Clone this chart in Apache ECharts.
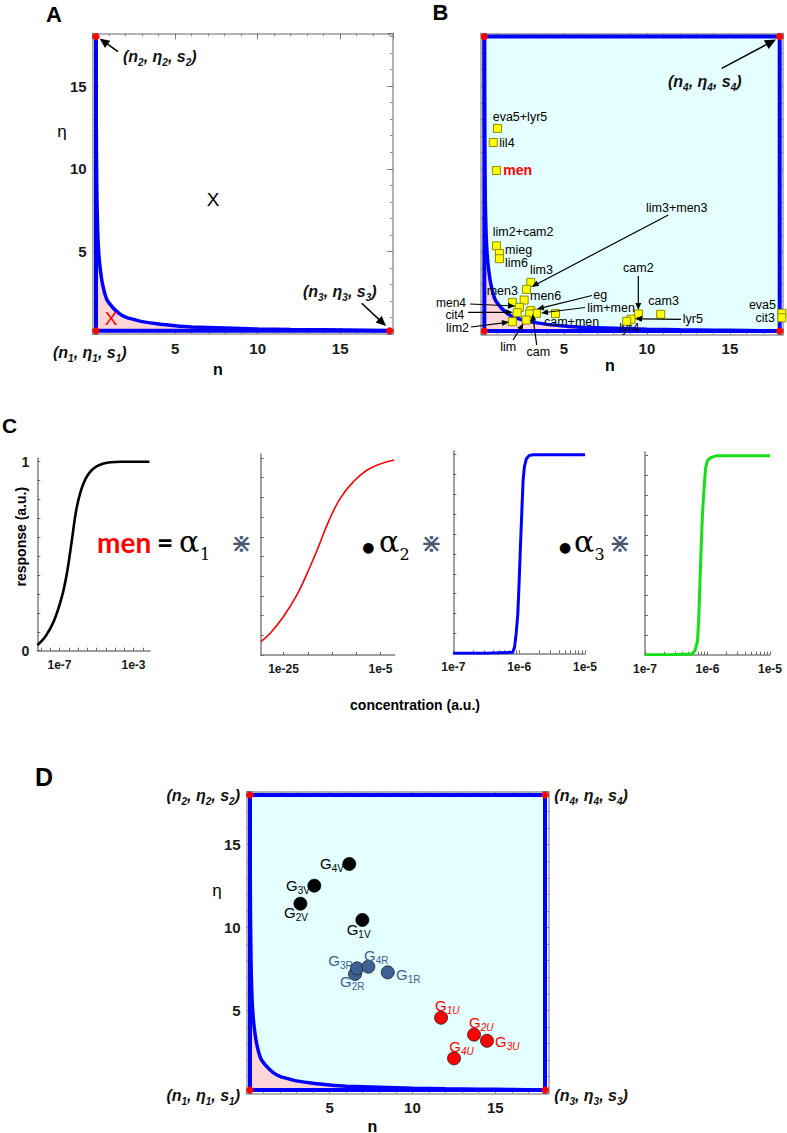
<!DOCTYPE html>
<html><head><meta charset="utf-8">
<script src="https://cdn.jsdelivr.net/npm/echarts@6/dist/echarts.min.js"></script>
<style>html,body{margin:0;padding:0;background:#fff}#c{width:787px;height:1133px}</style>
</head><body><div id="c"></div>
<script>
// ---------------- DATA ----------------
const frameTickLabels = [5, 10, 15];
// boundary curve (n, eta)
const curveN   = [0.2, 0.21, 0.23, 0.26, 0.3, 0.36, 0.45, 0.6, 0.85, 1.2, 1.6, 2.0, 2.6, 3.0, 4.0, 5.0, 6.0, 8.0, 10.0, 12.0, 14.0, 16.0, 18.0];
const curveEta = [18.0, 14.0, 10.5, 8.0, 6.3, 5.0, 4.0, 3.0, 2.1, 1.62, 1.25, 1.02, 0.85, 0.75, 0.6, 0.5, 0.43, 0.36, 0.3, 0.27, 0.25, 0.23, 0.2];
// corner vertices (n1..n4)
const cornerN   = [0.2, 0.2, 18.0, 18.0];
const cornerEta = [0.2, 18.0, 0.2, 18.0];
// panel A marks
const aMarkLabels = ['X', 'X'];
const aMarkN   = [7.29, 1.11];
const aMarkEta = [8.12, 0.95];
// panel B points
const bNames = ['eva5+lyr5','lil4','men','lim2+cam2','mieg','lim6','lim3','men3','men6','','men4','cit4','eg','lim+men','cam','cam+men','lim','lim2','cam2','cam3','lyr5','lyr4','eva5','cit3'];
const bN   = [0.99, 0.74, 0.93, 0.93, 1.11, 1.11, 3.0, 2.74, 2.6, 1.89, 2.31, 2.18, 3.0, 3.34, 2.92, 4.49, 2.72, 1.89, 9.49, 10.83, 9.04, 8.78, 18.13, 18.13];
const bEta = [12.45, 11.6, 9.9, 5.35, 4.89, 4.57, 3.14, 2.72, 2.07, 1.93, 1.63, 1.31, 1.43, 1.27, 1.23, 1.25, 0.86, 0.76, 1.23, 1.21, 0.91, 0.79, 1.27, 1.0];
// panel D points
const dNames = ['G1V','G2V','G3V','G4V','G1R','G2R','G3R','G4R','G1U','G2U','G3U','G4U'];
const dGroup = ['V','V','V','V','R','R','R','R','U','U','U','U'];
const dN   = [6.98, 3.24, 4.08, 6.19, 8.51, 6.54, 6.66, 7.34, 11.73, 13.72, 14.5, 12.51];
const dEta = [10.46, 11.44, 12.53, 13.84, 7.3, 7.2, 7.54, 7.64, 4.56, 3.54, 3.17, 2.11];
// panel C response curves: x = log10(concentration)
const c1Exp  = [-8.19, -7.77, -7.32, -6.87, -6.6, -6.33, -6.06, -5.7, -5.25, -4.62, -3.72, -2.14];
const c1Resp = [0.03, 0.074, 0.153, 0.286, 0.41, 0.586, 0.762, 0.886, 0.956, 0.99, 1.0, 1.0];
const c2Exp  = [-29.66, -27.74, -25, -22.24, -19.85, -17.78, -15.72, -13.31, -10.57, -7.12, -2.18];
const c2Resp = [0.068, 0.11, 0.195, 0.305, 0.43, 0.55, 0.677, 0.795, 0.88, 0.948, 0.99];
const c3Exp  = [-7.0, -6.5, -6.1, -6.07, -6.045, -6.02, -6.0, -5.98, -5.96, -5.94, -5.92, -5.89, -5.85, -5.79, -5.5, -5.0];
const c3Resp = [0.0, 0.0, 0.005, 0.03, 0.1, 0.2, 0.36, 0.54, 0.71, 0.87, 0.94, 0.98, 0.995, 1.0, 1.0, 1.0];
const c4Exp  = [-7.0, -6.6, -6.25, -6.2, -6.16, -6.14, -6.12, -6.1, -6.08, -6.05, -6.03, -6.0, -5.95, -5.85, -5.5, -5.0];
const c4Resp = [0.0, 0.0, 0.003, 0.02, 0.07, 0.18, 0.37, 0.55, 0.71, 0.86, 0.94, 0.975, 0.99, 1.0, 1.0, 1.0];
// tick labels (exponents) for C
const c1LabelExp = [-7, -3];
const c2LabelExp = [-25, -5];
const c34LabelExp = [-7, -6, -5];
const cYLabels = [0, 1];

// ---------------- LAYOUT / STYLE ----------------
const FONT = 'Liberation Sans';
const AX_MAX = 18.2;
const grids = [], xAxes = [], yAxes = [], series = [], graphics = [];
function addGrid(g) { grids.push(Object.assign({ show: false, containLabel: false, outerBoundsMode: 'none' }, g)); return grids.length - 1; }

function frameAxis(gi, pos, labels) {
  const isX = pos === 'bottom' || pos === 'top';
  const ax = {
    type: 'value', gridIndex: gi, position: pos, min: 0, max: AX_MAX, interval: 5,
    axisLine: { show: true, onZero: false, lineStyle: { color: '#9a9a9a', width: 1.5 } },
    axisTick: { show: true, inside: true, length: 6, lineStyle: { color: '#7a7a7a', width: 1 } },
    minorTick: { show: true, splitNumber: 5, length: 3, lineStyle: { color: '#8a8a8a', width: 1 } },
    splitLine: { show: false }, minorSplitLine: { show: false },
    axisLabel: { show: labels, margin: isX ? 7 : 6, color: '#1a1a1a', fontFamily: FONT, fontWeight: 'bold', fontSize: 15,
      formatter: v => frameTickLabels.includes(v) ? String(v) : '' }
  };
  const arr = isX ? xAxes : yAxes; arr.push(ax); return arr.length - 1;
}

function framePanel(g, full, yLabels) {
  const gi = addGrid(g);
  const xb = frameAxis(gi, 'bottom', true); frameAxis(gi, 'top', false);
  const yl = frameAxis(gi, 'left', yLabels); frameAxis(gi, 'right', false);
  const corners = cornerN.map((n, i) => [n, cornerEta[i]]);
  if (full) {
    series.push({ type: 'line', xAxisIndex: xb, yAxisIndex: yl, data: [corners[0], corners[3]], symbol: 'none', lineStyle: { width: 0 }, silent: true, z: 1,
      markArea: { silent: true, itemStyle: { color: '#e4ffff' }, data: [[{ coord: corners[0] }, { coord: corners[3] }]] } });
  }
  series.push({ type: 'line', xAxisIndex: xb, yAxisIndex: yl, data: curveN.map((n, i) => [n, curveEta[i]]), symbol: 'none', smooth: 0.25,
    lineStyle: { color: '#0000ff', width: 3.5 }, areaStyle: { color: '#ffd6d8', opacity: 1, origin: 0.2 }, silent: true, z: 3 });
  const path = full ? [corners[0], corners[1], corners[3], corners[2], corners[0]] : [corners[1], corners[0], corners[2]];
  series.push({ type: 'line', xAxisIndex: xb, yAxisIndex: yl, data: path, symbol: 'none', lineStyle: { color: '#0000ff', width: 4, join: 'miter' }, silent: true, z: 4 });
  const dots = full ? corners : corners.slice(0, 3);
  series.push({ type: 'scatter', xAxisIndex: xb, yAxisIndex: yl, data: dots, symbolSize: 7, itemStyle: { color: '#ff0000', opacity: 1 }, clip: false, silent: true, z: 8 });
  return { xb, yl };
}

// Panel A
const A = framePanel({ left: 92.7, top: 33.3, width: 300.3, height: 300.7 }, false, true);
series.push({ type: 'scatter', xAxisIndex: A.xb, yAxisIndex: A.yl, symbolSize: 2, z: 9, silent: true,
  itemStyle: { color: 'rgba(0,0,0,0)', opacity: 1 },
  data: aMarkN.map((n, i) => ({ value: [n, aMarkEta[i]], name: aMarkLabels[i],
    label: { show: true, position: 'inside', formatter: '{b}', fontFamily: FONT, fontSize: 19, textBorderWidth: 0, opacity: 1,
      color: i === 0 ? '#000000' : '#ff0000' } })) });

// Panel B
const B = framePanel({ left: 481, top: 33.3, width: 302, height: 301 }, true, false);
series.push({ type: 'scatter', xAxisIndex: B.xb, yAxisIndex: B.yl, symbol: 'rect', symbolSize: 8, clip: false, z: 7,
  itemStyle: { color: '#ffff00', borderColor: '#8c8c00', borderWidth: 1, opacity: 1 },
  data: bN.map((n, i) => ({ value: [n, bEta[i]], name: bNames[i] })) });

// Panel D
const D = framePanel({ left: 246.7, top: 791.7, width: 301.6, height: 301.6 }, true, true);
const groupColor = { V: '#000000', R: '#3d6194', U: '#ff0000' };
series.push({ type: 'scatter', xAxisIndex: D.xb, yAxisIndex: D.yl, symbolSize: 13, clip: false, z: 7,
  data: dN.map((n, i) => ({ value: [n, dEta[i]], name: dNames[i],
    itemStyle: { color: groupColor[dGroup[i]], borderColor: dGroup[i] === 'V' ? '#000' : '#1e1e1e', borderWidth: 0.8, opacity: 1 } })) });

// Panel C
function logTicks(lo, hi, majorOnly) {
  const t = [];
  for (let e = Math.floor(lo) - 1; e <= Math.ceil(hi); e++) {
    if (e >= lo - 1e-9 && e <= hi + 1e-9) t.push(e);
    if (!majorOnly) for (let k = 2; k <= 9; k++) { const v = e + Math.log10(k); if (v >= lo && v <= hi) t.push(v); }
  }
  return t;
}
const cYTicks = []; for (let i = 0; i <= 10; i++) cYTicks.push(i / 10);
function cPanel(g, xmin, xmax, tickVals, labelVals, showY, xs, ys, color, width, smooth) {
  const gi = addGrid(g);
  xAxes.push({ type: 'value', gridIndex: gi, position: 'bottom', min: xmin, max: xmax,
    axisLine: { show: true, onZero: false, lineStyle: { color: '#808080', width: 1.5 } },
    axisTick: { show: true, inside: true, length: 3, customValues: tickVals, lineStyle: { color: '#666', width: 1 } },
    axisLabel: { show: true, customValues: labelVals, formatter: v => '1e' + Math.round(v), margin: 8,
      fontFamily: FONT, fontWeight: 'bold', fontSize: 12, color: '#1a1a1a' },
    splitLine: { show: false } });
  yAxes.push({ type: 'value', gridIndex: gi, position: 'left', min: 0, max: 1.02,
    axisLine: { show: true, onZero: false, lineStyle: { color: '#808080', width: 1.5 } },
    axisTick: { show: true, inside: true, length: 3, customValues: cYTicks, lineStyle: { color: '#666', width: 1 } },
    axisLabel: { show: showY, customValues: cYLabels, formatter: v => String(Math.round(v)), margin: 8,
      fontFamily: FONT, fontWeight: 'bold', fontSize: 14, color: '#1a1a1a' },
    splitLine: { show: false } });
  series.push({ type: 'line', xAxisIndex: xAxes.length - 1, yAxisIndex: yAxes.length - 1,
    data: xs.map((x, i) => [x, ys[i]]), symbol: 'none', smooth: smooth,
    lineStyle: { color, width }, silent: true, z: 3 });
}
const c1Ticks = [-8, -7.5, -7, -6.5, -6, -5.5, -5, -4.5, -4, -3.5, -3, -2.5];
cPanel({ left: 37.3, top: 457.9, width: 112.9, height: 192.8 }, -8.2, -2.1, c1Ticks, c1LabelExp, true, c1Exp, c1Resp, '#000000', 2.6, 0.4);
cPanel({ left: 260.7, top: 454, width: 133.9, height: 201 }, -29.7, -2.1, [-25, -20, -15, -10, -5], c2LabelExp, false, c2Exp, c2Resp, '#ff0000', 1.6, 0.4);
cPanel({ left: 453.3, top: 450.7, width: 131.7, height: 202.6 }, -7, -5, logTicks(-7, -5, false), c34LabelExp, false, c3Exp, c3Resp, '#0000ff', 3, false);
cPanel({ left: 645, top: 451.7, width: 125, height: 203 }, -7, -5, logTicks(-7, -5, false), c34LabelExp, false, c4Exp, c4Resp, '#15e015', 3, false);

// ---------------- ANNOTATIONS ----------------
function T(x, y, text, o) {
  o = o || {};
  return { type: 'text', x, y, z: 100, rotation: o.rot || 0, silent: true,
    style: { text, fill: o.color || '#000', fontFamily: o.family || FONT, fontSize: o.size || 13,
      fontWeight: o.weight || 'normal', fontStyle: o.italic ? 'italic' : 'normal',
      align: o.align || 'left', verticalAlign: 'middle', rich: o.rich } };
}
function arrow(x1, y1, x2, y2, w, head, hw) {
  const dx = x2 - x1, dy = y2 - y1, L = Math.hypot(dx, dy), ux = dx / L, uy = dy / L;
  const bx = x2 - ux * head, by = y2 - uy * head;
  graphics.push({ type: 'line', z: 100, silent: true, shape: { x1, y1, x2: bx + ux, y2: by + uy }, style: { stroke: '#000', lineWidth: w } });
  graphics.push({ type: 'polygon', z: 100, silent: true, shape: { points: [[x2, y2], [bx - uy * hw, by + ux * hw], [bx + uy * hw, by - ux * hw]] }, style: { fill: '#000' } });
}
const cornerRich = {
  m: { fontFamily: FONT, fontSize: 16, fontWeight: 'bold', fontStyle: 'italic', fill: '#111', color: '#111', lineHeight: 22, verticalAlign: 'middle' },
  s: { fontFamily: FONT, fontSize: 10, fontWeight: 'bold', fontStyle: 'italic', fill: '#111', color: '#111', lineHeight: 22, verticalAlign: 'bottom' }
};
function corner(x, y, k, align) {
  graphics.push(T(x, y, `{m|(n}{s|${k}}{m|, η}{s|${k}}{m|, s}{s|${k}}{m|)}`, { align, rich: cornerRich }));
}
// panel letters
graphics.push(T(54, 14.5, 'A', { size: 22, weight: 'bold', align: 'center' }));
graphics.push(T(440.5, 12, 'B', { size: 22, weight: 'bold', align: 'center' }));
graphics.push(T(9.5, 425.5, 'C', { size: 21, weight: 'bold', align: 'center' }));
graphics.push(T(44, 776.5, 'D', { size: 25, weight: 'bold', align: 'center' }));
// axis names
graphics.push(T(218, 369, 'n', { size: 16, weight: 'bold', align: 'center' }));
graphics.push(T(62, 131.5, 'η', { size: 17, align: 'center' }));
graphics.push(T(610, 365, 'n', { size: 16, weight: 'bold', align: 'center' }));
graphics.push(T(372.5, 1126, 'n', { size: 16, weight: 'bold', align: 'center' }));
graphics.push(T(217, 890, 'η', { size: 17, align: 'center' }));
graphics.push(T(21, 536.7, 'response (a.u.)', { size: 14, weight: 'bold', align: 'center', rot: Math.PI / 2 }));
graphics.push(T(415, 705, 'concentration (a.u.)', { size: 14, weight: 'bold', align: 'center' }));
// corner labels
corner(123, 56.7, 2, 'left'); corner(303, 291.7, 3, 'left'); corner(53, 352.7, 1, 'left');
arrow(118, 51.7, 99.5, 38.5, 1.5, 10, 4.5); arrow(361.7, 303.3, 386, 326, 1.5, 10, 4.5);
corner(668, 81.7, 4, 'left'); arrow(721.7, 68.3, 776, 39.5, 1.5, 11, 5);
corner(240, 795.5, 2, 'right'); corner(554.3, 795.5, 4, 'left');
corner(240, 1095, 1, 'right'); corner(554.3, 1095, 3, 'left');
// B labels
const bLabelLayout = [
  ['eva5+lyr5', 492.7, 117.3, 'left'], ['lil4', 499.3, 142.7, 'left'], ['men', 503.3, 170, 'left', 'red'],
  ['lim2+cam2', 492.7, 231.7, 'left'], ['mieg', 505, 249.5, 'left'], ['lim6', 505, 262.8, 'left'],
  ['lim3', 530, 270, 'left'], ['men3', 486.7, 290.7, 'left'], ['men6', 530, 296, 'left'],
  ['men4', 466, 303, 'right', null, 12], ['cit4', 464.3, 315, 'right', null, 12], ['lim2', 469, 327.7, 'right'],
  ['lim', 508.3, 346.7, 'center'], ['cam', 538.3, 351.7, 'center'], ['cam+men', 544, 321.5, 'left'],
  ['eg', 593.3, 294.5, 'left'], ['lim+men', 587.3, 307.8, 'left'], ['lim3+men3', 646, 207.7, 'left'],
  ['cam2', 638.3, 267.7, 'center'], ['cam3', 648.3, 301, 'left'], ['lyr5', 682.7, 319.3, 'left'],
  ['lyr4', 629.3, 328.3, 'center'], ['eva5', 776, 304.5, 'right'], ['cit3', 775, 318, 'right']
];
bLabelLayout.forEach(([t, x, y, al, c, sz]) => graphics.push(T(x, y, t, c ? { size: 14, weight: 'bold', color: '#ff0000', align: al } : { size: sz || 12.5, align: al })));
[[668.3, 215, 531.7, 286.7], [470, 304, 515, 306], [468, 312.3, 513, 312.3], [471, 327, 509, 322],
 [513, 340, 523.5, 323.5], [536.7, 345, 532.5, 314], [592, 295.5, 537, 309], [585, 307.5, 541, 313],
 [638.3, 276, 638.3, 310], [681, 319.3, 635, 318.7]].forEach(a => arrow(a[0], a[1], a[2], a[3], 1.2, 7, 3));
// D labels
const dLabelLayout = { G1V: [346.7, 929], G2V: [284, 912.3], G3V: [286, 885.7], G4V: [320, 863.3],
  G1R: [396, 974.3], G2R: [340, 981.7], G3R: [328.3, 960], G4R: [364, 955.7],
  G1U: [435, 1005], G2U: [469, 1022.7], G3U: [495, 1041.7], G4U: [449.3, 1046.7] };
const labelColor = { V: '#000000', R: '#3d6194', U: '#ff0000' };
dNames.forEach((nm, i) => {
  const c = labelColor[dGroup[i]], p = dLabelLayout[nm];
  const rich = {
    g: { fontFamily: FONT, fontSize: 15, fill: c, color: c, lineHeight: 20, verticalAlign: 'middle' },
    s: { fontFamily: FONT, fontSize: 10, fontStyle: dGroup[i] === 'U' ? 'italic' : 'normal', fill: c, color: c, lineHeight: 20, verticalAlign: 'bottom' }
  };
  graphics.push(T(p[0], p[1], `{g|G}{s|${nm.slice(1)}}`, { rich }));
});
// formula in panel C
graphics.push(T(97, 542, 'men', { family: 'Lato', size: 28, weight: 'bold', color: '#ff0000' }));
graphics.push(T(157, 542, '=', { family: 'Lato', size: 28, weight: 'bold' }));
const opColor = '#4a5874';
[[179, 200, 241.5, '1', null], [379, 399.5, 431.5, '2', 368.3], [574, 594.5, 620, '3', 565]].forEach(([ax, sx, ox, k, bx]) => {
  if (bx) graphics.push(T(bx, 546.5, '●', { family: 'DejaVu Sans', size: 14, align: 'center' }));
  graphics.push(T(ax, 541, 'α', { family: 'DejaVu Serif', size: 30 }));
  graphics.push(T(sx, 554, k, { family: 'DejaVu Serif', size: 16 }));
  graphics.push(T(ox, 543, '⋇', { family: 'DejaVu Sans', size: 26, align: 'center', color: opColor }));
});

const chart = echarts.init(document.getElementById('c'), null, { renderer: 'svg', width: 787, height: 1133 });
chart.setOption({
  animation: false, backgroundColor: '#ffffff',
  grid: grids, xAxis: xAxes, yAxis: yAxes, series, graphic: { elements: graphics }
});
</script></body></html>
